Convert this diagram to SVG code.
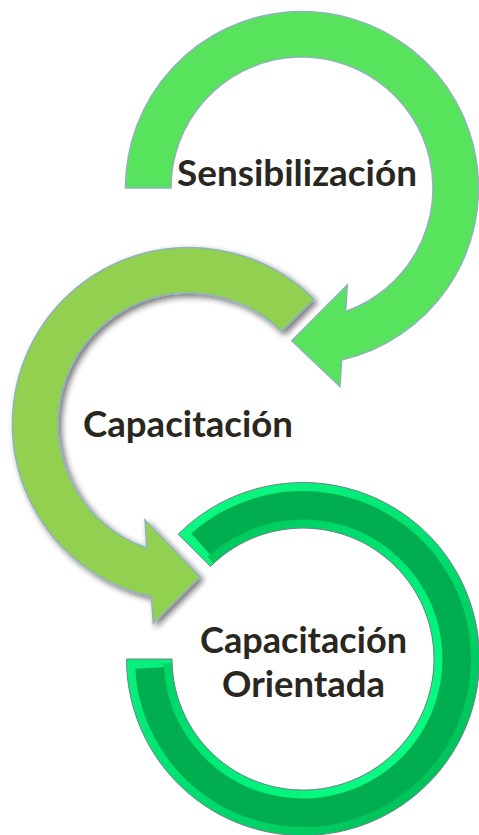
<svg xmlns="http://www.w3.org/2000/svg" width="479" height="835" viewBox="0 0 479 835">
<style>
.lbl{font-family:Lato,"Open Sans","Noto Sans",sans-serif;font-weight:bold;font-size:36px;fill:#2A271F;text-anchor:middle}
.arrow{stroke:#8FB3BA;stroke-width:1.5;stroke-linejoin:miter}
.ring-outline{fill:none;stroke:#6C8388;stroke-width:1}
</style>
<defs>
<filter id="sh" x="-20%" y="-20%" width="140%" height="140%">
<feGaussianBlur in="SourceAlpha" stdDeviation="3"/>
<feOffset dx="3" dy="3"/>
<feComponentTransfer><feFuncA type="linear" slope="0.55"/></feComponentTransfer>
<feMerge><feMergeNode/><feMergeNode in="SourceGraphic"/></feMerge>
</filter>
<linearGradient id="g1" gradientUnits="userSpaceOnUse" x1="140" y1="500" x2="470" y2="830">
<stop offset="0" stop-color="#10FF85"/>
<stop offset="0.5" stop-color="#00E070"/>
<stop offset="1" stop-color="#00B854"/>
</linearGradient>
<linearGradient id="g2" gradientUnits="userSpaceOnUse" x1="172" y1="530" x2="435" y2="790">
<stop offset="0" stop-color="#00BE56"/>
<stop offset="0.6" stop-color="#00F07A"/>
<stop offset="1" stop-color="#10FF85"/>
</linearGradient>
</defs>

<g id="node-capacitacion-orientada">
<path d="M126.5,659 A176.5,176.5 0 1 0 178.2,534.2 L210.4,566.4 A131,131 0 1 1 172,659 Z" fill="url(#g1)"/>
<path d="M167.57,663.49 A135.5,135.5 0 1 0 210.36,560.12" fill="none" stroke="url(#g2)" stroke-width="9"/>
<path d="M149.51,667.98 A153.75,153.75 0 1 0 200.79,544.14" fill="none" stroke="#00AE4F" stroke-width="28.5"/>
<path class="ring-outline" d="M126.5,659 A176.5,176.5 0 1 0 178.2,534.2 L210.4,566.4 A131,131 0 1 1 172,659 Z"/>
<text class="lbl" x="303.5" y="653" textLength="207" lengthAdjust="spacingAndGlyphs">Capacitación</text>
<text class="lbl" x="303.5" y="697" textLength="163" lengthAdjust="spacingAndGlyphs">Orientada</text>
</g>

<g id="node-capacitacion">
<path class="arrow" filter="url(#sh)" fill="#92D050" d="M313.8,299.2 A176.5,176.5 0 1 0 151.4,596.4 L153.3,623.3 L200,576.7 L145,520 L146.8,548 A131,131 0 1 1 281.6,331.4 Z"/>
<text class="lbl" x="188" y="436.5" textLength="210" lengthAdjust="spacingAndGlyphs">Capacitación</text>
</g>

<g id="node-sensibilizacion">
<path class="arrow" fill="#57E35B" d="M125.5,188 A176.5,176.5 0 1 1 341.7,360 L340,386.7 L291.7,340.7 L347.3,285 L345.7,311.5 A131,131 0 1 0 171,188 Z"/>
<text class="lbl" x="297" y="186" textLength="240" lengthAdjust="spacingAndGlyphs">Sensibilización</text>
</g>
</svg>
